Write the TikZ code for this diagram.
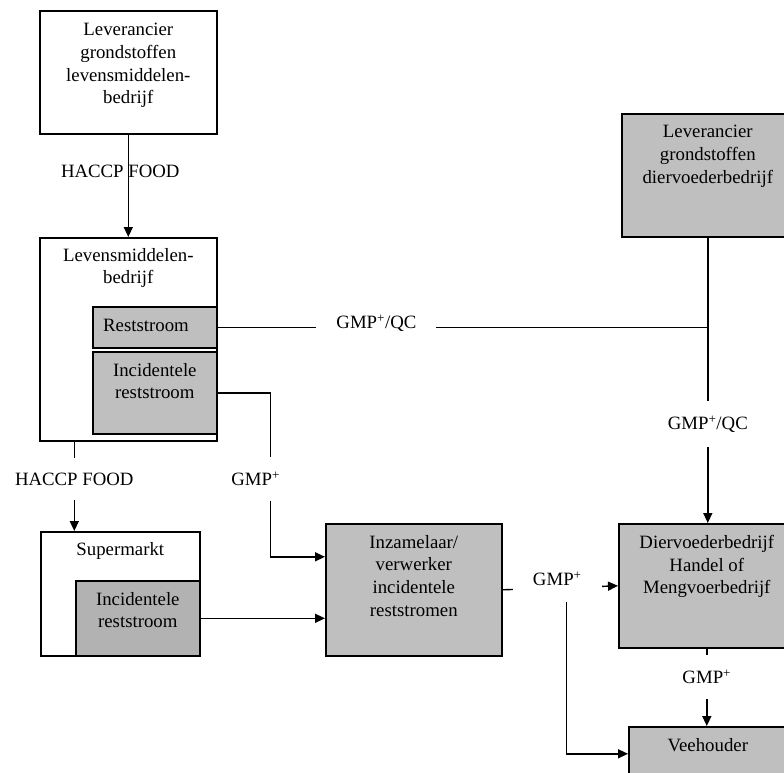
\documentclass[tikz,border=0pt]{standalone}
\usepackage{fontspec}
\setmainfont{Liberation Serif}
\usetikzlibrary{positioning,arrows.meta}

\begin{document}
\begin{tikzpicture}[x=1pt, y=-1pt, >={Triangle[length=10pt,width=9pt]},
    blok/.style={draw, line width=1.6pt, inner sep=0pt, anchor=north west},
    grijs/.style={blok, fill=black!25},
    donker/.style={blok, fill=black!30},
    tekst/.style={inner sep=0pt, align=center, font=\fontsize{18.8pt}{22.7pt}\selectfont},
    lijn/.style={line width=1.4pt},
    etiket/.style={tekst, fill=white, inner xsep=20pt, inner ysep=15pt}]
    \path[use as bounding box, clip] (0,0) rectangle (784,773);

    \node[blok, minimum width=177, minimum height=123] (LL) at (39,10) {};
    \node[tekst, below=13pt of LL.north] (LLt) {Leverancier\\grondstoffen\\levensmiddelen-\\bedrijf};
    \node[blok, minimum width=177, minimum height=203] (LM) at (39,237) {};
    \node[tekst, below=11pt of LM.north] (LMt) {Levensmiddelen-\\bedrijf};
    \node[grijs, minimum width=124, minimum height=41] (RS) at (92,306) {};
    \node[tekst, anchor=west, xshift=11pt, yshift=2pt] (RSt) at (RS.west) {Reststroom};
    \node[grijs, minimum width=124, minimum height=82] (IR) at (92,351) {};
    \node[tekst, below=12pt of IR.north] (IRt) {Incidentele\\reststroom};
    \node[blok, minimum width=159, minimum height=124] (SM) at (40,531) {};
    \node[tekst, below=11pt of SM.north] (SMt) {Supermarkt};
    \node[donker, minimum width=124, minimum height=75] (IS) at (75,580) {};
    \node[tekst, below=12pt of IS.north] (ISt) {Incidentele\\reststroom};
    \node[grijs, minimum width=176, minimum height=132] (IZ) at (325,523) {};
    \node[tekst, below=12pt of IZ.north] (IZt) {Inzamelaar/\\verwerker\\incidentele\\reststromen};
    \node[grijs, minimum width=172, minimum height=123] (LD) at (621,113) {};
    \node[tekst, below=12pt of LD.north] (LDt) {Leverancier\\grondstoffen\\diervoederbedrijf};
    \node[grijs, minimum width=176, minimum height=124] (DV) at (618,523) {};
    \node[tekst, below=12pt of DV.north] (DVt) {Diervoederbedrijf\\Handel of\\Mengvoerbedrijf};
    \node[grijs, minimum width=158, minimum height=54] (VH) at (628,726) {};
    \node[tekst, below=12pt of VH.north] (VHt) {Veehouder};

    \draw[lijn, ->] (LL.south) -- node[tekst, pos=0.356, xshift=-8pt] (h1) {HACCP FOOD} (LM.north);
    \draw[lijn, ->] ([xshift=-54pt]LM.south) -- node[etiket, pos=0.418] (h2) {HACCP FOOD} ([xshift=-54pt]LM.south |- SM.north);
    \draw[lijn] (RS.east) -- node[etiket, pos=0.324, yshift=4pt] (g1) {GMP\textsuperscript{+}/QC} (RS.east -| LD.south);
    \draw[lijn, ->] (LD.south) -- node[etiket, pos=0.653] (g2) {GMP\textsuperscript{+}/QC} (LD.south |- DV.north);
    \draw[lijn, ->] (IR.east) -- ++(53,0) |- node[etiket, pos=0.262, xshift=-15pt] (g3) {GMP\textsuperscript{+}} ([yshift=33pt]IZ.west);
    \draw[lijn, ->] (IS.east) -- (IS.east -| IZ.west);
    \draw[lijn, ->] (IZ.east) -- node[etiket, pos=0.474, yshift=9pt] (g4) {GMP\textsuperscript{+}} (DV.west);
    \draw[lijn, ->] ([xshift=9pt]g4.south) |- (VH.west);
    \draw[lijn, ->] (DV.south) -- node[etiket, pos=0.367] (g5) {GMP\textsuperscript{+}} (DV.south |- VH.north);
\end{tikzpicture}
\end{document}
